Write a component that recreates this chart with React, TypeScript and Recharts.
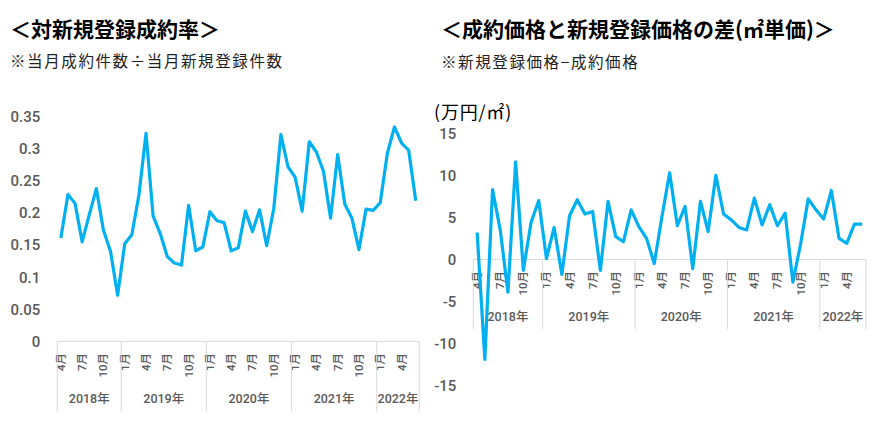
import React from 'react'
import { LineChart, Line, XAxis, YAxis } from 'recharts'

// 2018年4月〜2022年6月 (月次)
const periods = [
  '2018/4', '2018/5', '2018/6', '2018/7', '2018/8', '2018/9', '2018/10', '2018/11', '2018/12',
  '2019/1', '2019/2', '2019/3', '2019/4', '2019/5', '2019/6', '2019/7', '2019/8', '2019/9', '2019/10', '2019/11', '2019/12',
  '2020/1', '2020/2', '2020/3', '2020/4', '2020/5', '2020/6', '2020/7', '2020/8', '2020/9', '2020/10', '2020/11', '2020/12',
  '2021/1', '2021/2', '2021/3', '2021/4', '2021/5', '2021/6', '2021/7', '2021/8', '2021/9', '2021/10', '2021/11', '2021/12',
  '2022/1', '2022/2', '2022/3', '2022/4', '2022/5', '2022/6'
]

// 対新規登録成約率
const contractRatio = [
  0.161, 0.229, 0.215, 0.155, 0.197, 0.238, 0.173, 0.14, 0.072,
  0.152, 0.166, 0.228, 0.324, 0.195, 0.168, 0.132, 0.122, 0.119, 0.212, 0.141, 0.147,
  0.202, 0.188, 0.185, 0.141, 0.146, 0.203, 0.171, 0.205, 0.149, 0.207, 0.322, 0.272,
  0.256, 0.203, 0.311, 0.295, 0.265, 0.192, 0.291, 0.214, 0.192, 0.143, 0.206, 0.204,
  0.216, 0.293, 0.334, 0.309, 0.298, 0.219
]

// 新規登録価格−成約価格 (万円/㎡)
const priceGap = [
  3.2, -11.9, 8.3, 3.5, -3.9, 11.6, -1.3, 4.4, 7.0,
  0.1, 3.8, -1.8, 5.2, 7.1, 5.4, 5.7, -1.3, 6.9, 2.7, 2.1, 5.9,
  3.9, 2.5, -0.5, 5.1, 10.3, 4.0, 6.3, -1.1, 6.9, 3.3, 10.0, 5.4,
  4.7, 3.8, 3.5, 7.3, 4.1, 6.5, 4.0, 5.5, -2.7, 1.8, 7.2, 5.9,
  4.8, 8.2, 2.5, 1.9, 4.2, 4.2
]

const ratioTicks = [0, 0.05, 0.1, 0.15, 0.2, 0.25, 0.3, 0.35]
const gapTicks = [-15, -10, -5, 0, 5, 10, 15]
const labelMonths = [1, 4, 7, 10]

const rows = periods.map((p, i) => ({
  period: p,
  ratio: contractRatio[i],
  gap: priceGap[i]
}))

const LINE_COLOR = '#00B0F0'
const AXIS_COLOR = '#d9d9d9'
const TEXT_COLOR = '#595959'
const NUM_FONT = 'Roboto, "Noto Sans CJK JP", sans-serif'
const JP_FONT = '"Noto Sans CJK JP", "Noto Sans", sans-serif'

function PeriodTick(props: any) {
  const { x, y, payload, bw } = props
  const idx = payload.index
  const [yy, mm] = String(payload.value).split('/').map(Number)
  const prevYear = idx > 0 ? Number(periods[idx - 1].split('/')[0]) : null
  const isGroupStart = prevYear !== yy
  const isLast = idx === periods.length - 1
  const groupSize = periods.filter(p => Number(p.split('/')[0]) === yy).length

  return (
    <g>
      {labelMonths.includes(mm) && (
        <text
          x={x}
          y={y + 11.5}
          transform={`rotate(-90, ${x}, ${y + 11.5})`}
          textAnchor="end"
          dominantBaseline="central"
          fontSize={11.5}
          fontWeight={500}
          fontFamily={NUM_FONT}
          fill={TEXT_COLOR}
        >
          {mm}月
        </text>
      )}
      {isGroupStart && (
        <>
          <line x1={x - bw / 2} x2={x - bw / 2} y1={y} y2={y + 70} stroke={AXIS_COLOR} />
          <text
            x={x - bw / 2 + (groupSize * bw) / 2}
            y={y + 57}
            textAnchor="middle"
            dominantBaseline="central"
            fontSize={12.5}
            fontWeight={500}
            fontFamily={NUM_FONT}
            fill={TEXT_COLOR}
          >
            {yy}年
          </text>
        </>
      )}
      {isLast && <line x1={x + bw / 2} x2={x + bw / 2} y1={y} y2={y + 70} stroke={AXIS_COLOR} />}
    </g>
  )
}

interface PanelProps {
  left: number
  width: number
  plotLeft: number
  plotRight: number
  yTop: number
  yBottom: number
  axisY: number
  dataKey: string
  domain: [number, number]
  ticks: number[]
}

function Panel({ left, width, plotLeft, plotRight, yTop, yBottom, axisY, dataKey, domain, ticks }: PanelProps) {
  const bw = (plotRight - plotLeft) / periods.length
  const marginLeft = plotLeft - left
  const marginRight = left + width - plotRight
  const axisHeight = 80

  return (
    <>
      {/* 横軸 (線より下に描く) */}
      <div style={{ position: 'absolute', left, top: 0 }}>
        <LineChart
          width={width}
          height={axisY + axisHeight}
          data={rows}
          margin={{ top: 0, right: marginRight, bottom: 0, left: marginLeft }}
        >
          <XAxis
            dataKey="period"
            interval={0}
            height={axisHeight}
            padding={{ left: bw / 2, right: bw / 2 }}
            tickLine={false}
            tickSize={0}
            tickMargin={0}
            axisLine={{ stroke: AXIS_COLOR }}
            tick={(p: any) => <PeriodTick {...p} bw={bw} />}
          />
          <Line dataKey={dataKey} stroke="none" dot={false} isAnimationActive={false} />
        </LineChart>
      </div>
      {/* 系列と縦軸 */}
      <div style={{ position: 'absolute', left, top: 0 }}>
        <LineChart
          width={width}
          height={426}
          data={rows}
          margin={{ top: yTop, right: marginRight, bottom: 426 - yBottom, left: 0 }}
        >
          <XAxis dataKey="period" hide padding={{ left: bw / 2, right: bw / 2 }} />
          <YAxis
            width={marginLeft}
            domain={domain}
            ticks={ticks}
            interval={0}
            tickLine={false}
            axisLine={false}
            tickSize={0}
            tickMargin={17}
            tick={{ fill: TEXT_COLOR, fontSize: 15, fontWeight: 500, fontFamily: NUM_FONT }}
          />
          <Line
            type="linear"
            dataKey={dataKey}
            stroke={LINE_COLOR}
            strokeWidth={3.2}
            strokeLinejoin="round"
            dot={false}
            isAnimationActive={false}
          />
        </LineChart>
      </div>
    </>
  )
}

const titleStyle: React.CSSProperties = {
  position: 'absolute',
  fontFamily: JP_FONT,
  fontWeight: 700,
  fontSize: 21,
  color: '#000',
  whiteSpace: 'nowrap',
  lineHeight: 1
}

const noteStyle: React.CSSProperties = {
  position: 'absolute',
  fontFamily: JP_FONT,
  fontSize: 15.5,
  color: '#222',
  whiteSpace: 'nowrap',
  lineHeight: 1,
  letterSpacing: 1.6
}

export default function App() {
  return (
    <div style={{ position: 'absolute', left: 0, top: 0, width: 890, height: 426, background: '#fff', overflow: 'hidden' }}>
      <div style={{ ...titleStyle, left: 10, top: 18 }}>＜対新規登録成約率＞</div>
      <div style={{ ...noteStyle, left: 10, top: 53 }}>※当月成約件数÷当月新規登録件数</div>
      <div style={{ ...titleStyle, left: 441, top: 18 }}>＜成約価格と新規登録価格の差(㎡単価)＞</div>
      <div style={{ ...noteStyle, left: 441, top: 54 }}>※新規登録価格−成約価格</div>
      <div style={{ ...noteStyle, fontSize: 18, color: '#000', letterSpacing: 0.8, left: 434, top: 102 }}>(万円/㎡)</div>

      <Panel
        left={0}
        width={440}
        plotLeft={57.3}
        plotRight={419.3}
        yTop={116.7}
        yBottom={341.4}
        axisY={341.4}
        dataKey="ratio"
        domain={[0, 0.35]}
        ticks={ratioTicks}
      />
      <Panel
        left={430}
        width={460}
        plotLeft={473.3}
        plotRight={866}
        yTop={133.3}
        yBottom={385.5}
        axisY={259.4}
        dataKey="gap"
        domain={[-15, 15]}
        ticks={gapTicks}
      />
    </div>
  )
}
